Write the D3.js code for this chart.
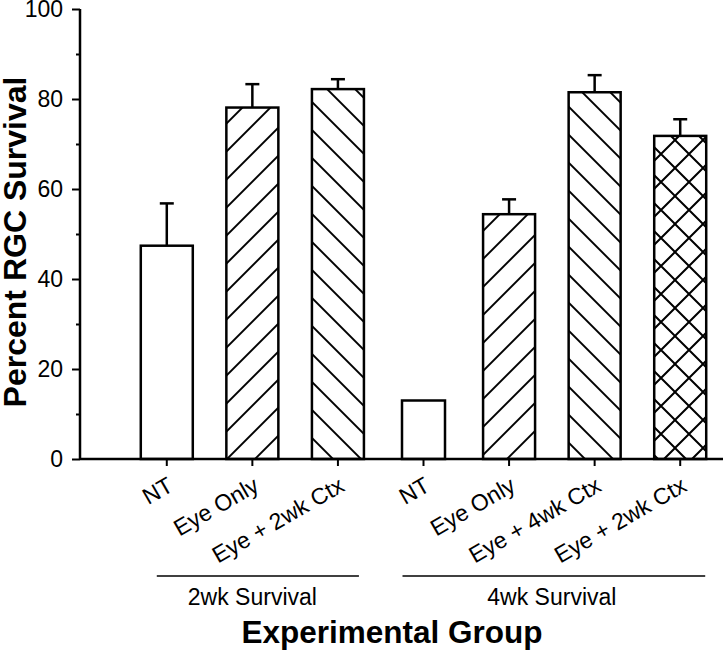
<!DOCTYPE html>
<html>
<head>
<meta charset="utf-8">
<script src="https://cdn.jsdelivr.net/npm/d3@7"></script>
<style>
  html, body { margin: 0; padding: 0; background: #fff; }
  svg { display: block; font-family: Arial, "Liberation Sans", Helvetica, sans-serif; }
</style>
</head>
<body>
<svg id="chart" width="725" height="651"></svg>
<script>
// ---- data ----
const categories = ["NT", "Eye Only", "Eye + 2wk Ctx", "NT", "Eye Only", "Eye + 4wk Ctx", "Eye + 2wk Ctx"];
const groups = ["2wk", "2wk", "2wk", "4wk", "4wk", "4wk", "4wk"];
const means = [47.4, 78.1, 82.2, 13.0, 54.4, 81.5, 71.8];
const errors = [9.4, 5.2, 2.2, 0, 3.3, 3.8, 3.7];
const fills = ["none", "fwd", "back", "none", "fwd", "back", "cross"];
const groupLabels = ["2wk Survival", "4wk Survival"];
const yTicks = [0, 20, 40, 60, 80, 100];
const yMinorTicks = [10, 30, 50, 70, 90];

// ---- styles / layout ----
const barWidths = [52, 52, 52, 43, 52, 52, 52];
const svg = d3.select("#chart");
const x = d3.scaleBand().domain(d3.range(categories.length)).range([124, 723]).paddingInner(0.393).paddingOuter(0.1965);
const y = d3.scaleLinear().domain([0, 100]).range([459, 9]);
const cx = i => x(i) + x.bandwidth() / 2;

// patterns
const defs = svg.append("defs");
const sp = 28 / Math.SQRT2;
function linePattern(id, angle) {
  const p = defs.append("pattern").attr("id", id).attr("patternUnits", "userSpaceOnUse")
    .attr("width", sp).attr("height", sp).attr("patternTransform", `rotate(${angle})`);
  p.append("line").attr("x1", sp / 2).attr("x2", sp / 2).attr("y1", -1).attr("y2", sp + 1)
    .attr("stroke", "#000").attr("stroke-width", 2);
}
linePattern("fwd", 45);
linePattern("back", -45);
const pc = defs.append("pattern").attr("id", "cross").attr("patternUnits", "userSpaceOnUse")
  .attr("width", 28).attr("height", 28).attr("x", 3).attr("y", 0);
pc.append("path").attr("d", "M-1,-1L29,29M-1,29L29,-1").attr("stroke", "#000").attr("stroke-width", 2).attr("fill", "none");

// bars
const idx = d3.range(categories.length);
svg.append("g").selectAll("rect").data(idx).join("rect")
  .attr("x", i => cx(i) - barWidths[i] / 2)
  .attr("width", i => barWidths[i])
  .attr("y", i => y(means[i]))
  .attr("height", i => y(0) - y(means[i]))
  .attr("fill", i => fills[i] === "none" ? "#fff" : `url(#${fills[i]})`)
  .attr("stroke", "#000").attr("stroke-width", 2.5);

// error bars (upper only)
const eg = svg.append("g").attr("stroke", "#000").attr("stroke-width", 2.5);
idx.filter(i => errors[i] > 0).forEach(i => {
  eg.append("line").attr("x1", cx(i)).attr("x2", cx(i)).attr("y1", y(means[i])).attr("y2", y(means[i] + errors[i]));
  eg.append("line").attr("x1", cx(i) - 7).attr("x2", cx(i) + 7).attr("y1", y(means[i] + errors[i])).attr("y2", y(means[i] + errors[i]));
});

// y axis
const yAxis = svg.append("g").attr("transform", "translate(80,0)")
  .call(d3.axisLeft(y).tickValues(yTicks).tickSize(8).tickPadding(9).tickFormat(d3.format("d")));
yAxis.select(".domain").attr("d", `M0,${y(100)}V${y(0)}`).attr("stroke-width", 2.5);
yAxis.selectAll(".tick line").attr("stroke-width", 2);
yAxis.selectAll(".tick text").attr("font-size", 23).attr("font-family", "Arial, 'Liberation Sans', sans-serif").attr("fill", "#000");
const yMinor = svg.append("g").attr("transform", "translate(80,0)")
  .call(d3.axisLeft(y).tickValues(yMinorTicks).tickSize(4).tickFormat(""));
yMinor.select(".domain").remove();
yMinor.selectAll(".tick line").attr("stroke-width", 2);

// x axis
svg.append("line").attr("x1", 80).attr("x2", 723).attr("y1", y(0)).attr("y2", y(0))
  .attr("stroke", "#000").attr("stroke-width", 2.5);
const xt = svg.append("g");
idx.forEach(i => {
  xt.append("line").attr("x1", cx(i)).attr("x2", cx(i)).attr("y1", y(0)).attr("y2", y(0) + 7)
    .attr("stroke", "#000").attr("stroke-width", 2);
  xt.append("text").attr("transform", `translate(${cx(i) + 8},${y(0) + 31}) rotate(-30)`)
    .attr("text-anchor", "end").attr("font-size", 23).text(categories[i]);
});

// group brackets
const groupSpans = [[0, 2, 10, 21], [3, 6, 21, 25]];
groupSpans.forEach(([a, b, la, rb], g) => {
  svg.append("line").attr("x1", cx(a) - la).attr("x2", cx(b) + rb).attr("y1", 576).attr("y2", 576)
    .attr("stroke", "#000").attr("stroke-width", 1.5);
  svg.append("text").attr("x", (cx(a) + cx(b)) / 2).attr("y", 605).attr("text-anchor", "middle")
    .attr("font-size", 23).text(groupLabels[g]);
});

// axis titles
svg.append("text").attr("x", 392).attr("y", 643).attr("text-anchor", "middle")
  .attr("font-size", 31.5).attr("font-weight", "bold").text("Experimental Group");
svg.append("text").attr("transform", "translate(26,242) rotate(-90)").attr("text-anchor", "middle")
  .attr("font-size", 32).attr("font-weight", "bold").text("Percent RGC Survival");
</script>
</body>
</html>
